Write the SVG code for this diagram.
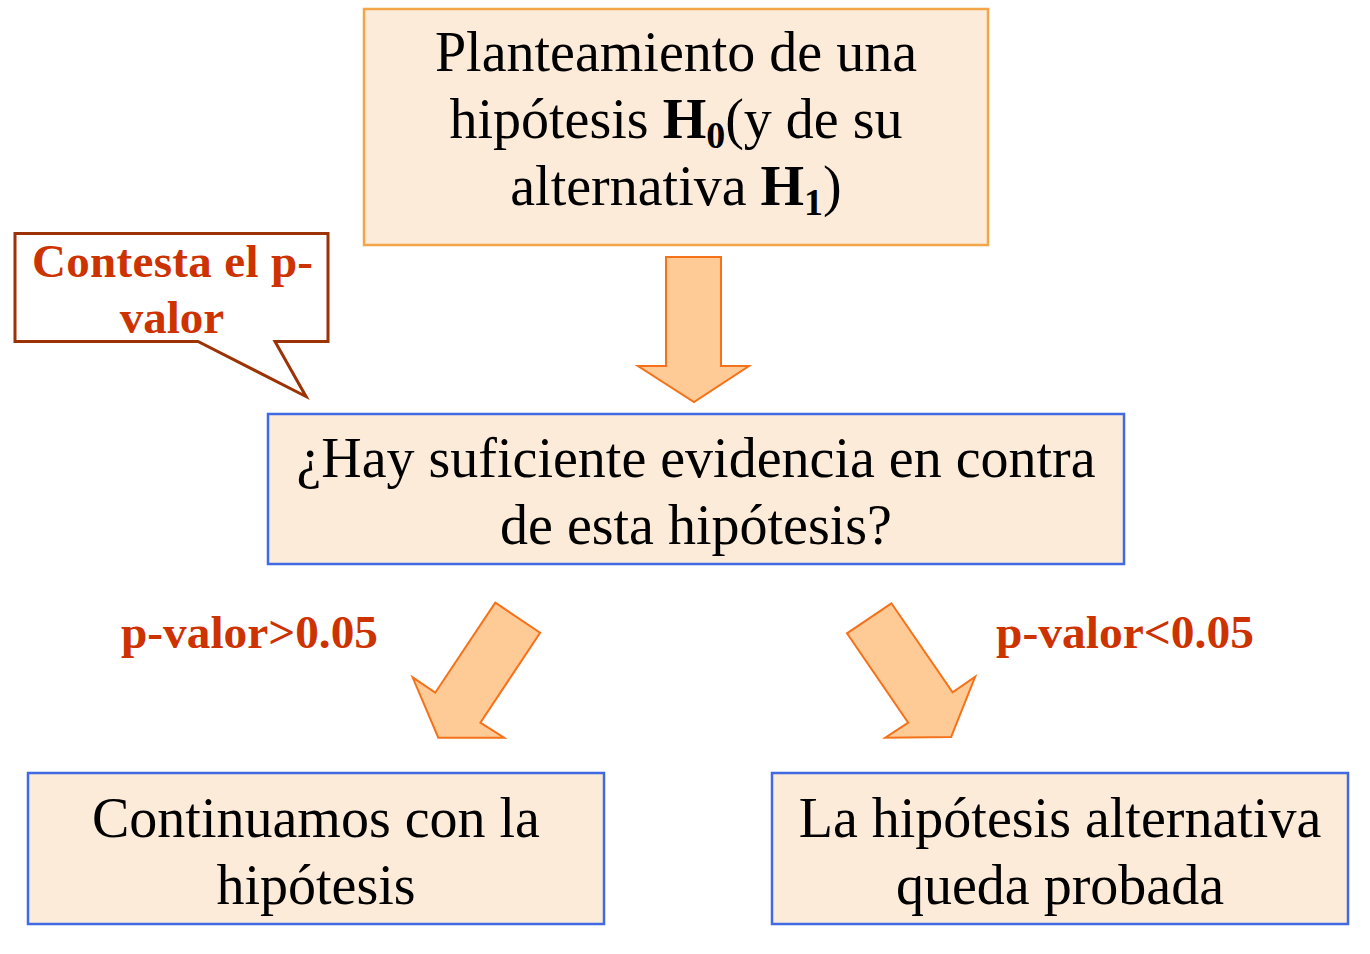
<svg xmlns="http://www.w3.org/2000/svg" width="1370" height="954" viewBox="0 0 1370 954">
<style>
.box{fill:#FDEBDA;stroke-width:2.5}
.orange{stroke:#F3A548}
.blue{stroke:#4169E1}
.t{font-family:"Liberation Serif","Times New Roman",serif;font-size:56px;fill:#000;text-anchor:middle}
.b{font-weight:bold}
.red{font-family:"Liberation Serif","Times New Roman",serif;font-size:47px;font-weight:bold;fill:#CC3300}
.arrow{fill:#FECB96;stroke:#F5711A;stroke-width:2;stroke-linejoin:miter}
</style>
<rect width="1370" height="954" fill="#FFFFFF"/>
<g id="node-planteamiento">
<rect class="box orange" x="364" y="9" width="624" height="236"/>
<text class="t" x="676" y="71">Planteamiento de una</text>
<text class="t" x="676" y="138">hipótesis <tspan class="b">H</tspan><tspan class="b" font-size="38" dy="10">0</tspan><tspan dy="-10">(y de su</tspan></text>
<text class="t" x="676" y="205">alternativa <tspan class="b">H</tspan><tspan class="b" font-size="38" dy="10">1</tspan><tspan dy="-10">)</tspan></text>
</g>
<g id="node-callout">
<path d="M15,233.5 H328 V341.5 H275 L306,396.5 L198,341.5 H15 Z" fill="#FFFFFF" stroke="#9C3306" stroke-width="3" stroke-linejoin="miter"/>
<text class="red" x="32" y="277" textLength="281" lengthAdjust="spacing">Contesta el p-</text>
<text class="red" x="172" y="333" text-anchor="middle">valor</text>
</g>
<g id="node-pregunta">
<rect class="box blue" x="268" y="414" width="856" height="150"/>
<text class="t" x="696" y="477">¿Hay suficiente evidencia en contra</text>
<text class="t" x="696" y="544">de esta hipótesis?</text>
</g>
<g id="node-continuamos">
<rect class="box blue" x="28" y="773" width="576" height="151"/>
<text class="t" x="316" y="837">Continuamos con la</text>
<text class="t" x="316" y="904">hipótesis</text>
</g>
<g id="node-alternativa">
<rect class="box blue" x="772" y="773" width="576" height="151"/>
<text class="t" x="1060" y="837">La hipótesis alternativa</text>
<text class="t" x="1060" y="904">queda probada</text>
</g>
<g id="connectors">
<path class="arrow" stroke-width="3" d="M666,257 H721 V366 H749 L694,402 L638,366 H666 Z"/>
<path class="arrow" d="M495.3,602.7 L540.1,632.7 L480.4,722.7 L504.1,737.7 L438.3,737.7 L412.6,677.3 L435.2,692.7 Z"/>
<path class="arrow" d="M891.4,603.3 L847,633.3 L908.2,722.7 L885.3,737.7 L951.1,737 L975.2,676.7 L952.6,692.3 Z"/>
<text class="red" x="121" y="648" textLength="257" lengthAdjust="spacingAndGlyphs">p-valor&gt;0.05</text>
<text class="red" x="996" y="648" textLength="258" lengthAdjust="spacingAndGlyphs">p-valor&lt;0.05</text>
</g>
</svg>
